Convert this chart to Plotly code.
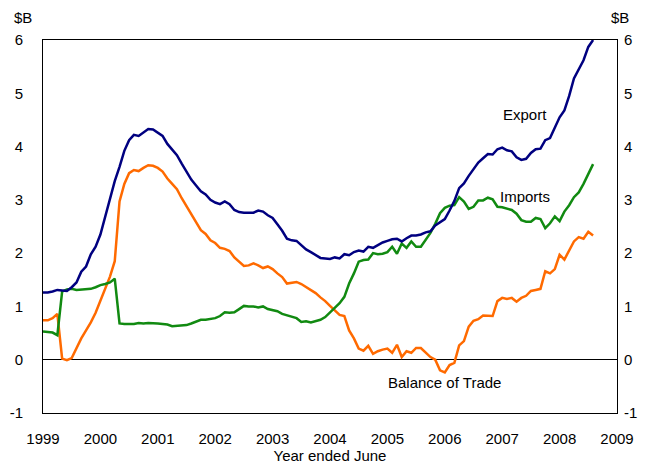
import plotly.graph_objects as go

# Monthly data, Jan 1999 .. Aug 2008 ($B)
start_year = 1999
export = [1.26, 1.26, 1.28, 1.31, 1.30, 1.29, 1.36, 1.45, 1.65, 1.75, 1.98, 2.12,
          2.35, 2.68, 3.00, 3.35, 3.62, 3.92, 4.12, 4.22, 4.20, 4.27, 4.33, 4.32,
          4.26, 4.20, 4.05, 3.95, 3.84, 3.68, 3.53, 3.38, 3.27, 3.16, 3.10, 3.00,
          2.95, 2.92, 2.97, 2.92, 2.81, 2.77, 2.76, 2.76, 2.76, 2.80, 2.78, 2.71,
          2.66, 2.54, 2.42, 2.27, 2.24, 2.23, 2.14, 2.07, 2.02, 1.96, 1.91, 1.90,
          1.89, 1.92, 1.90, 1.98, 1.96, 2.02, 2.05, 2.03, 2.12, 2.10, 2.15, 2.20,
          2.23, 2.26, 2.27, 2.22, 2.28, 2.33, 2.33, 2.35, 2.39, 2.41, 2.52, 2.58,
          2.64, 2.80, 2.98, 3.22, 3.31, 3.45, 3.58, 3.70, 3.78, 3.86, 3.85, 3.95,
          3.98, 3.93, 3.91, 3.80, 3.75, 3.77, 3.88, 3.95, 3.96, 4.12, 4.16, 4.35,
          4.55, 4.68, 4.95, 5.28, 5.45, 5.62, 5.87, 6.00]
imports = [0.53, 0.52, 0.51, 0.46, 1.28, 1.32, 1.33, 1.31, 1.32, 1.33, 1.33, 1.36,
           1.40, 1.42, 1.45, 1.52, 0.68, 0.67, 0.67, 0.67, 0.69, 0.68, 0.69, 0.69,
           0.68, 0.67, 0.66, 0.63, 0.64, 0.65, 0.65, 0.68, 0.71, 0.75, 0.75, 0.76,
           0.78, 0.82, 0.89, 0.88, 0.89, 0.95, 1.01, 1.00, 1.00, 0.98, 1.00, 0.95,
           0.93, 0.91, 0.86, 0.83, 0.81, 0.78, 0.71, 0.72, 0.70, 0.72, 0.75, 0.80,
           0.89, 0.97, 1.06, 1.18, 1.43, 1.62, 1.84, 1.87, 1.88, 2.00, 1.98, 1.99,
           2.02, 2.12, 1.99, 2.18, 2.10, 2.22, 2.12, 2.12, 2.25, 2.38, 2.55, 2.75,
           2.85, 2.89, 2.90, 3.05, 2.97, 2.83, 2.87, 2.99, 2.99, 3.04, 3.01, 2.87,
           2.86, 2.84, 2.81, 2.74, 2.62, 2.59, 2.59, 2.66, 2.64, 2.47, 2.56, 2.69,
           2.60, 2.78, 2.90, 3.05, 3.14, 3.30, 3.49, 3.67]
balance = [0.74, 0.74, 0.78, 0.86, 0.02, -0.01, 0.03, 0.22, 0.40, 0.55, 0.70, 0.88,
           1.10, 1.32, 1.56, 1.85, 2.97, 3.30, 3.50, 3.56, 3.54, 3.60, 3.65, 3.64,
           3.60, 3.53, 3.40, 3.30, 3.20, 3.03, 2.88, 2.72, 2.58, 2.43, 2.36, 2.24,
           2.19, 2.10, 2.08, 2.04, 1.92, 1.83, 1.76, 1.77, 1.81, 1.77, 1.72, 1.75,
           1.70, 1.62, 1.55, 1.43, 1.44, 1.46, 1.42, 1.36, 1.30, 1.25, 1.17, 1.10,
           1.01, 0.93, 0.84, 0.82, 0.55, 0.40, 0.21, 0.17, 0.26, 0.11, 0.16, 0.19,
           0.21, 0.13, 0.28, 0.05, 0.16, 0.13, 0.22, 0.22, 0.14, 0.05, 0.00, -0.20,
           -0.24, -0.10, -0.06, 0.27, 0.35, 0.62, 0.73, 0.76, 0.83, 0.83, 0.82, 1.10,
           1.16, 1.14, 1.16, 1.09, 1.16, 1.20, 1.29, 1.31, 1.33, 1.66, 1.62, 1.70,
           1.97, 1.88, 2.05, 2.22, 2.30, 2.27, 2.40, 2.33]
x_ticks = [1999, 2000, 2001, 2002, 2003, 2004, 2005, 2006, 2007, 2008, 2009]
y_ticks = [-1, 0, 1, 2, 3, 4, 5, 6]
y_tick_labels = ["-1", "0", "1", "2", "3", "4", "5", "6"]

months = [start_year + i / 12 for i in range(len(export))]

FONT = "Liberation Sans, Arial, sans-serif"
fig = go.Figure()
fig.add_trace(go.Scatter(x=months, y=balance, mode="lines", name="Balance of Trade",
                         line=dict(color="#ff6a00", width=2.5)))
fig.add_trace(go.Scatter(x=months, y=imports, mode="lines", name="Imports",
                         line=dict(color="#118a11", width=2.5)))
fig.add_trace(go.Scatter(x=months, y=export, mode="lines", name="Export",
                         line=dict(color="#000080", width=2.5)))
# invisible trace for right axis
fig.add_trace(go.Scatter(x=[x_ticks[0]], y=[y_ticks[0]], yaxis="y2", mode="lines",
                         showlegend=False, hoverinfo="skip", line=dict(width=0)))

fig.update_layout(
    width=650, height=458,
    margin=dict(l=35, r=41, t=32, b=53),
    paper_bgcolor="white", plot_bgcolor="white",
    showlegend=False,
    font=dict(family=FONT, size=15, color="black"),
    xaxis=dict(range=[1999, 2009], tickvals=x_ticks, ticktext=[str(t) for t in x_ticks],
               showgrid=False, zeroline=False, showline=True, linecolor="black",
               linewidth=1, mirror=True, ticks="", ticklabelstandoff=12, automargin=False,
               title=dict(text="Year ended June", standoff=3, font=dict(size=15))),
    yaxis=dict(range=[-1, 6], tickvals=y_ticks, ticktext=y_tick_labels, showgrid=False,
               zeroline=True, zerolinecolor="black", zerolinewidth=1, showline=True,
               linecolor="black", linewidth=1, mirror=True, ticks="",
               ticklabelstandoff=16, automargin=False),
    yaxis2=dict(range=[-1, 6], tickvals=y_ticks, ticktext=y_tick_labels, overlaying="y",
                side="right", showgrid=False, zeroline=False, showline=False, ticks="",
                ticklabelstandoff=6, automargin=False),
)

fig.add_annotation(text="Export", x=2007.4, y=4.6, xref="x", yref="y", showarrow=False,
                   font=dict(size=15))
fig.add_annotation(text="Imports", x=2007.4, y=3.06, xref="x", yref="y", showarrow=False,
                   font=dict(size=15))
fig.add_annotation(text="Balance of Trade", x=2006.0, y=-0.42, xref="x", yref="y",
                   showarrow=False, font=dict(size=15))
fig.add_annotation(text="$B", x=-0.035, y=(373 + 22) / 373, xref="paper", yref="paper",
                   showarrow=False, xanchor="center", yanchor="middle", font=dict(size=15))
fig.add_annotation(text="$B", x=1.005, y=(373 + 22) / 373, xref="paper", yref="paper",
                   showarrow=False, xanchor="center", yanchor="middle", font=dict(size=15))

fig.write_html("out.html")
